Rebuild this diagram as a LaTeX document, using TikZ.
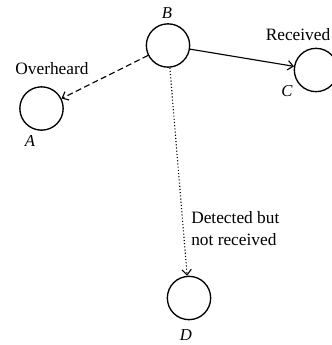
\documentclass[tikz,border=0pt]{standalone}
\usepackage{fontspec}
\setmainfont{Liberation Serif}
\usetikzlibrary{arrows.meta}

\begin{document}
\begin{tikzpicture}[x=0.75pt,y=-0.75pt,
  station/.style={circle,draw,line width=1pt,minimum size=32.5pt,inner sep=0pt},
  stnlabel/.style={font=\fontsize{12.5}{14}\selectfont\itshape,inner sep=0pt},
  tag/.style={font=\fontsize{13}{16.5}\selectfont,inner sep=0pt,align=left},
  link/.style={line width=0.85pt,-{Straight Barb[length=4pt,width=7pt]}}]
  \path[use as bounding box] (0,0) rectangle (331,345);

  % stations
  \node[station] (B) at (168,45.5) {};
  \node[station] (A) at (41.5,108.5) {};
  \node[station] (C) at (316,70) {};
  \node[station] (D) at (189,298) {};

  % station names
  \node[stnlabel] (nB) at (167,13) {B};
  \node[stnlabel] (nA) at (30,141) {A};
  \node[stnlabel] (nC) at (287,91) {C};
  \node[stnlabel] (nD) at (186,335) {D};

  % link descriptions
  \node[tag] (over) at (52,69) {Overheard};
  \node[tag] (recv) at (298,35) {Received};
  \node[tag,anchor=west] (det) at (191,229) {Detected but\\not received};

  % links from B
  \draw[link,dash pattern=on 4.5pt off 2.5pt] (B) -- (A);
  \draw[link] (B) -- (C);
  \draw[link,dash pattern=on 0.8pt off 1.6pt] (B) -- (D);
\end{tikzpicture}
\end{document}
